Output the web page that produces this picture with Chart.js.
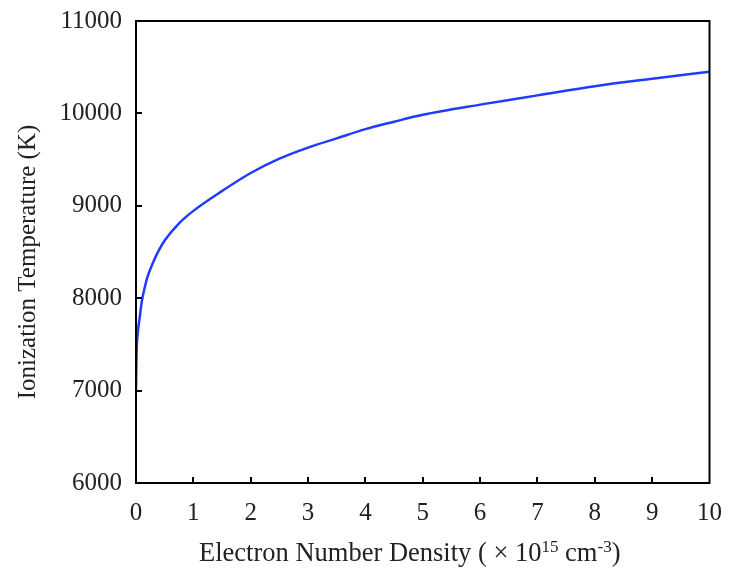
<!DOCTYPE html>
<html>
<head>
<meta charset="utf-8">
<script src="https://cdn.jsdelivr.net/npm/chart.js@4.4.0/dist/chart.umd.min.js"></script>
<style>
  html, body { margin: 0; padding: 0; background: #fff; }
  #wrap { width: 729px; height: 574px; }
</style>
</head>
<body>
<div id="wrap"><canvas id="ionChart"></canvas></div>
<script>
// electron number density (x 10^15 cm^-3) vs ionization temperature (K)
const densityValues = [0, 0.01, 0.03, 0.06, 0.1, 0.15, 0.2, 0.3, 0.4, 0.5, 0.75, 1, 1.5, 2, 2.5, 3, 3.5, 4, 4.5, 5, 6, 7, 8, 9, 10];
const temperatureValues = [7000, 7400, 7620, 7770, 7960, 8110, 8230, 8390, 8520, 8625, 8810, 8945, 9160, 9355, 9510, 9630, 9730, 9830, 9910, 9985, 10095, 10195, 10295, 10375, 10450];
const xTickValues = [0, 1, 2, 3, 4, 5, 6, 7, 8, 9, 10];
const yTickValues = [6000, 7000, 8000, 9000, 10000, 11000];

const serif = "'Liberation Serif', 'Times New Roman', serif";

const points = densityValues.map((d, i) => ({ x: d, y: temperatureValues[i] }));

// box frame, inward ticks and the axis titles
const framePlugin = {
  id: 'frame',
  afterDraw(chart) {
    const ctx = chart.ctx;
    const a = chart.chartArea;
    const xs = chart.scales.x;
    const ys = chart.scales.y;
    ctx.save();
    ctx.strokeStyle = '#000';
    ctx.lineWidth = 2;
    ctx.strokeRect(a.left, a.top, a.right - a.left, a.bottom - a.top);

    ctx.beginPath();
    xTickValues.slice(1, -1).forEach(v => {
      const px = Math.round(xs.getPixelForValue(v));
      ctx.moveTo(px, a.bottom);
      ctx.lineTo(px, a.bottom - 6);
    });
    yTickValues.slice(1, -1).forEach(v => {
      const py = Math.round(ys.getPixelForValue(v));
      ctx.moveTo(a.left, py);
      ctx.lineTo(a.left + 6, py);
    });
    ctx.stroke();

    ctx.fillStyle = '#222';
    // x title with superscripts
    const big = '26.5px ' + serif;
    const small = '17px ' + serif;
    const parts = [
      { t: 'Electron Number Density ( \u00d7 10', f: big, dy: 0 },
      { t: '15', f: small, dy: -9 },
      { t: ' cm', f: big, dy: 0 },
      { t: '-3', f: small, dy: -9 },
      { t: ')', f: big, dy: 0 }
    ];
    let total = 0;
    parts.forEach(p => { ctx.font = p.f; p.w = ctx.measureText(p.t).width; total += p.w; });
    let x = (a.left + a.right) / 2 - 13 - total / 2;
    const base = a.bottom + 78;
    ctx.textBaseline = 'alphabetic';
    ctx.textAlign = 'left';
    parts.forEach(p => {
      ctx.font = p.f;
      ctx.fillText(p.t, x, base + p.dy);
      x += p.w;
    });

    // y title
    ctx.translate(28, (a.top + a.bottom) / 2 + 10);
    ctx.rotate(-Math.PI / 2);
    ctx.font = '25px ' + serif;
    ctx.textAlign = 'center';
    ctx.textBaseline = 'middle';
    ctx.fillText('Ionization Temperature (K)', 0, 0);
    ctx.restore();
  }
};

new Chart('ionChart', {
  type: 'line',
  data: {
    datasets: [{
      data: points,
      borderColor: '#1e3cff',
      borderWidth: 2.5,
      pointRadius: 0,
      fill: false,
      cubicInterpolationMode: 'monotone'
    }]
  },
  options: {
    responsive: true,
    maintainAspectRatio: false,
    animation: false,
    layout: { padding: { top: 9, right: 6, left: 0, bottom: 0 } },
    plugins: {
      legend: { display: false },
      tooltip: { enabled: false }
    },
    scales: {
      x: {
        type: 'linear',
        min: 0,
        max: 10,
        grid: { display: false },
        border: { display: false },
        ticks: {
          stepSize: 1,
          padding: 7,
          color: '#222',
          maxRotation: 0,
          font: { family: serif, size: 25 },
          callback: v => String(v)
        },
        afterFit(scale) { scale.height = 91; }
      },
      y: {
        min: 6000,
        max: 11000,
        grid: { display: false },
        border: { display: false },
        ticks: {
          stepSize: 1000,
          padding: 6,
          color: '#222',
          font: { family: serif, size: 25 },
          callback: v => String(v)
        },
        afterFit(scale) { scale.width = 136; }
      }
    }
  },
  plugins: [framePlugin]
});
</script>
</body>
</html>
